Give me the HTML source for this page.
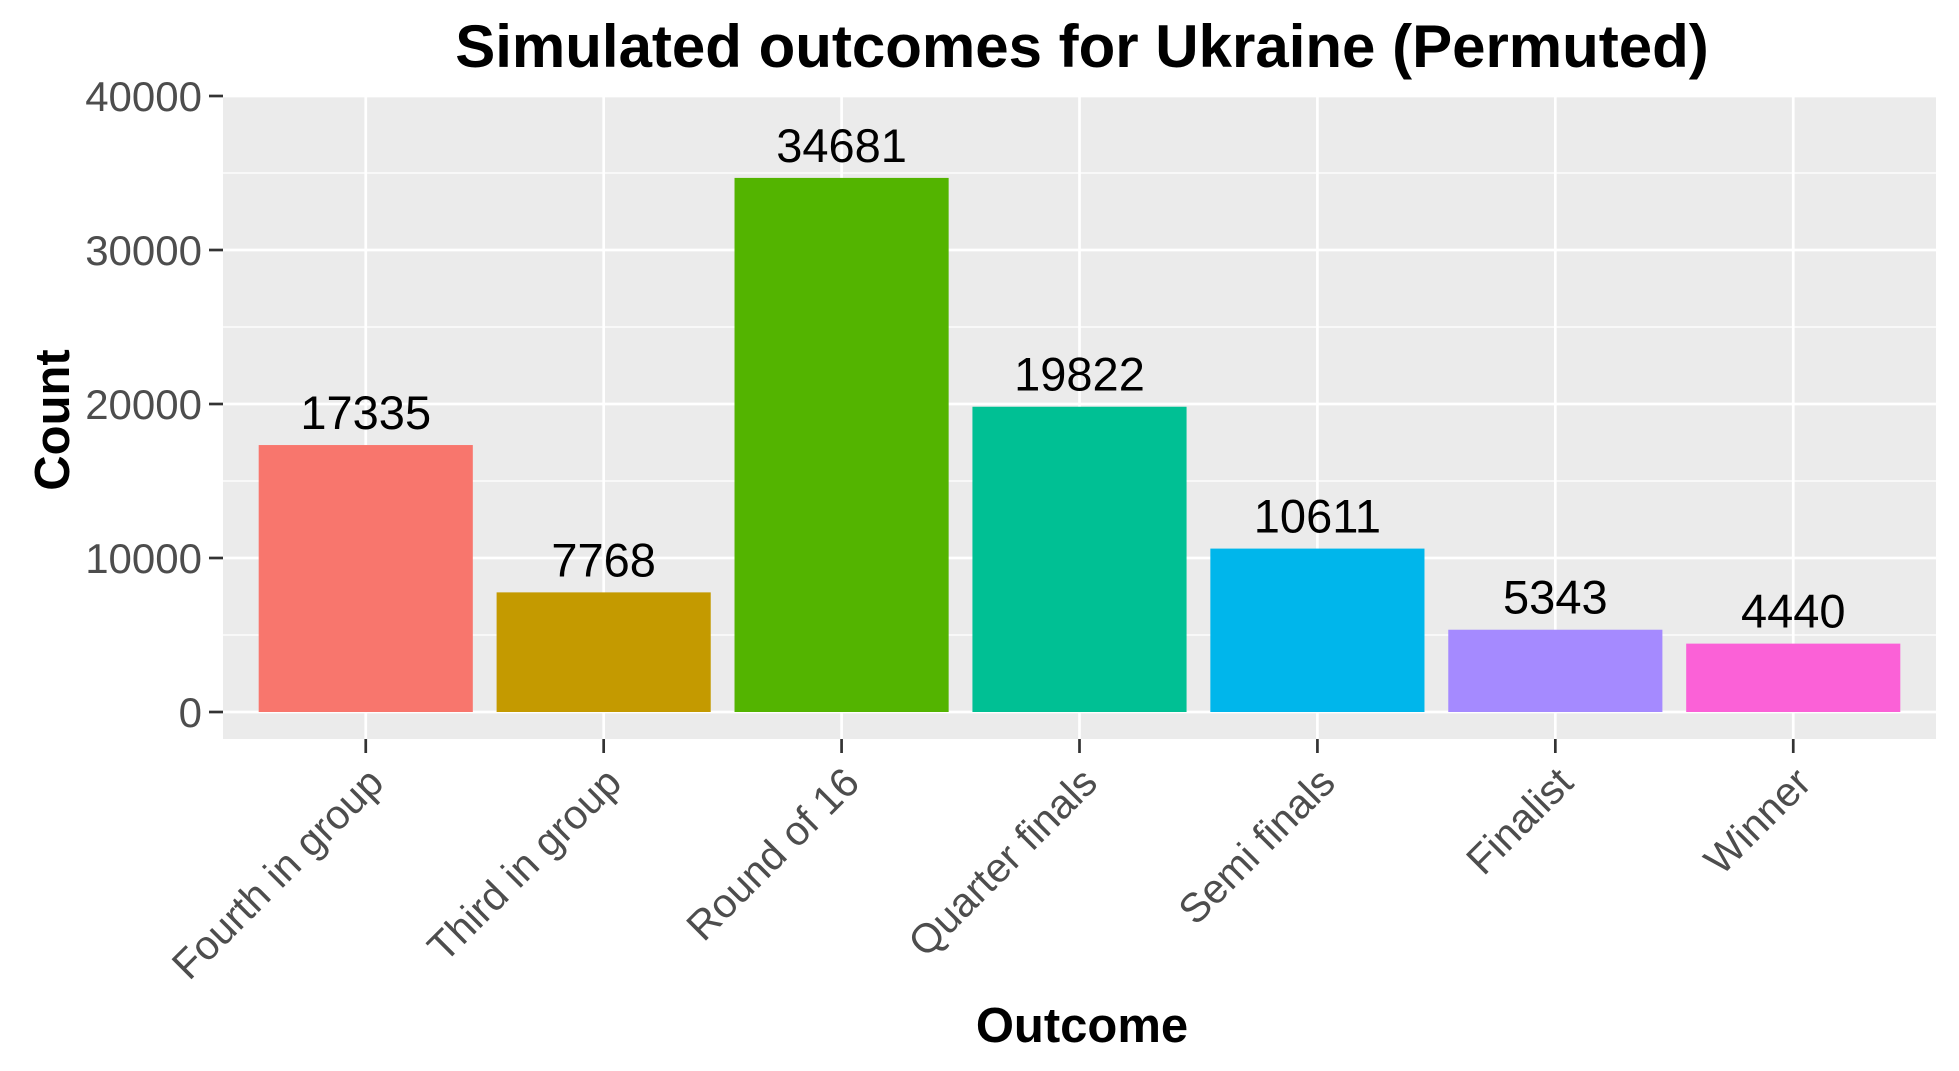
<!DOCTYPE html>
<html><head><meta charset="utf-8"><style>
html,body{margin:0;padding:0;background:#fff;}
svg{display:block;font-family:"Liberation Sans",Arial,sans-serif;}
</style></head><body>
<svg id="chart" width="1959" height="1071" viewBox="0 0 1959 1071">
<text x="1082" y="67" text-anchor="middle" font-size="60" font-weight="bold" fill="#000">Simulated outcomes for Ukraine (Permuted)</text>
<rect x="223" y="95" width="1713" height="644" fill="#EBEBEB"/>
<g id="grid"></g>
<g id="bars"></g>
<g id="yaxis"></g>
<g id="xaxis"></g>
<text transform="translate(69,420) rotate(-90)" text-anchor="middle" font-size="49" font-weight="bold" fill="#000">Count</text>
<text x="1082" y="1042" text-anchor="middle" font-size="49" font-weight="bold" fill="#000">Outcome</text>
</svg>
<script>
const categories = ["Fourth in group","Third in group","Round of 16","Quarter finals","Semi finals","Finalist","Winner"];
const counts = [17335,7768,34681,19822,10611,5343,4440];
const colors = ["#F8766D","#C49A00","#53B400","#00C094","#00B6EB","#A58AFF","#FB61D7"];
const yTicks = [0,10000,20000,30000,40000];
const yMinor = [5000,15000,25000,35000];

const NS="http://www.w3.org/2000/svg";
const panelL=223, panelR=1936, panelT=95, panelB=739;
const y0=712, y40=96;
function yScale(v){return y0-(v/40000)*(y0-y40);}
const step=(panelR-panelL)/(categories.length+0.2);
function xScale(i){return panelL+step*(0.6+i);}
function mk(tag,attrs,parent){const e=document.createElementNS(NS,tag);for(const k in attrs)e.setAttribute(k,attrs[k]);parent.appendChild(e);return e;}
const grid=document.getElementById('grid'),bars=document.getElementById('bars'),ya=document.getElementById('yaxis'),xa=document.getElementById('xaxis');
yMinor.forEach(v=>{const l=mk('line',{x1:panelL,x2:panelR,y1:yScale(v),y2:yScale(v),stroke:'#fff','stroke-width':1.3},grid);

});
yTicks.forEach(v=>{const l=mk('line',{x1:panelL,x2:panelR,y1:yScale(v),y2:yScale(v),stroke:'#fff','stroke-width':2.7},grid);


const t=mk('line',{x1:209,x2:223,y1:yScale(v),y2:yScale(v),stroke:'#333','stroke-width':2.7},ya);


const tx=mk('text',{x:202,y:yScale(v)+15,'text-anchor':'end','font-size':42,fill:'#4D4D4D'},ya);
tx.textContent=v;

});
categories.forEach((c,i)=>{const cx=xScale(i);
const g=mk('line',{x1:cx,x2:cx,y1:panelT,y2:panelB,stroke:'#fff','stroke-width':2.7},grid);


const w=step*0.9;
const b=mk('rect',{x:cx-w/2,y:yScale(counts[i]),width:w,height:yScale(0)-yScale(counts[i]),fill:colors[i]},bars);


const lb=mk('text',{x:cx,y:yScale(counts[i])-16,'text-anchor':'middle','font-size':47,fill:'#000'},bars);
lb.textContent=counts[i];


const t=mk('line',{x1:cx,x2:cx,y1:panelB,y2:panelB+14,stroke:'#333','stroke-width':2.7},xa);


const tx=mk('text',{'text-anchor':'end','font-size':41,fill:'#4D4D4D',transform:'translate('+(cx+20)+','+(panelB+46)+') rotate(-45)'},xa);
tx.textContent=c;

});
</script>
</body></html>
